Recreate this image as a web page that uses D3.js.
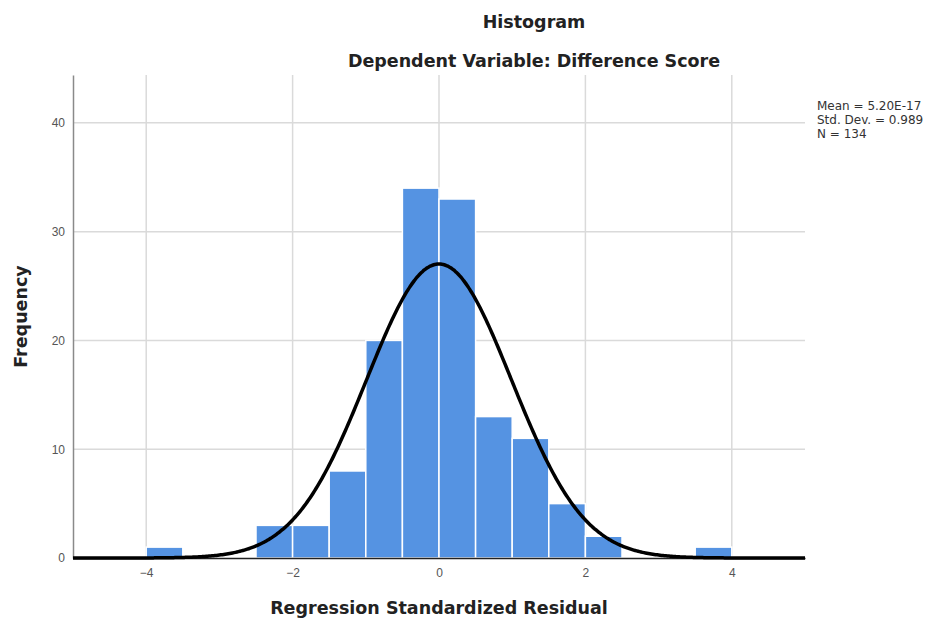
<!DOCTYPE html>
<html>
<head>
<meta charset="utf-8">
<script src="https://cdn.jsdelivr.net/npm/d3@7"></script>
<style>
  body { margin: 0; background: #fff; }
  svg { font-family: "DejaVu Sans", "Open Sans", sans-serif; }
</style>
</head>
<body>
<div id="chart"></div>
<script>
// bins of the regression standardized residual (width 0.5)
const binStart = [-4, -2.5, -2, -1.5, -1, -0.5, 0, 0.5, 1, 1.5, 2, 3.5];
const binCount = [1, 3, 3, 8, 20, 34, 33, 13, 11, 5, 2, 1];
const binWidth = 0.5;

const xTicks = [-4, -2, 0, 2, 4];
const yTicks = [0, 10, 20, 30, 40];

const statMean = 5.20e-17;
const statSd = 0.989;
const statN = 134;
const statLabels = ['Mean = 5.20E-17', 'Std. Dev. = 0.989', 'N = 134'];

const width = 937, height = 619;
const margin = {top: 75, left: 73, bottom: 61, right: 132};

const svg = d3.select('#chart').append('svg')
  .attr('width', width).attr('height', height);

const x = d3.scaleLinear().domain([-5, 5]).range([margin.left, width - margin.right]);
const y = d3.scaleLinear().domain([0, 44.4]).range([height - margin.bottom, margin.top]);

// grid
const grid = svg.append('g');
grid.selectAll('line.h').data(yTicks.filter(d => d > 0)).enter().append('line')
  .attr('x1', x(-5)).attr('x2', x(5))
  .attr('y1', d => y(d)).attr('y2', d => y(d))
  .attr('stroke', '#dadada').attr('stroke-width', 1.5);
grid.selectAll('line.v').data(xTicks).enter().append('line')
  .attr('x1', d => x(d)).attr('x2', d => x(d))
  .attr('y1', y(44.4)).attr('y2', y(0))
  .attr('stroke', '#dadada').attr('stroke-width', 1.5);

// bars
svg.append('g').selectAll('rect').data(binStart).enter().append('rect')
  .attr('x', d => x(d))
  .attr('width', x(binWidth) - x(0))
  .attr('y', (d, i) => y(binCount[i]))
  .attr('height', (d, i) => y(0) - y(binCount[i]))
  .attr('fill', '#5593e2')
  .attr('stroke', '#ffffff')
  .attr('stroke-width', 1.5);

// axes
const yAxis = svg.append('g').attr('transform', 'translate(' + margin.left + ',0)')
  .call(d3.axisLeft(y).tickValues(yTicks).tickSize(0).tickPadding(8));
yAxis.select('.domain').attr('stroke', '#8a8a8a').attr('stroke-width', 1.5);
yAxis.selectAll('text').attr('font-size', 12).attr('fill', '#555');

const xAxis = svg.append('g').attr('transform', 'translate(0,' + y(0) + ')')
  .call(d3.axisBottom(x).tickValues(xTicks).tickSize(0).tickPadding(10)
    .tickFormat(d => d < 0 ? '\u2212' + Math.abs(d) : d));
xAxis.select('.domain').attr('stroke', '#222').attr('stroke-width', 1.5);
xAxis.selectAll('text').attr('font-size', 12).attr('fill', '#555');

// fitted normal curve
const scale = statN * binWidth / (statSd * Math.sqrt(2 * Math.PI));
const curvePts = d3.range(-5, 5.001, 0.02).map(v => [v, scale * Math.exp(-0.5 * Math.pow((v - statMean) / statSd, 2))]);
svg.append('path').datum(curvePts)
  .attr('d', d3.line().x(d => x(d[0])).y(d => y(d[1])).curve(d3.curveBasis))
  .attr('fill', 'none').attr('stroke', '#000').attr('stroke-width', 3.5);

// titles
svg.append('text').attr('x', 534).attr('y', 28).attr('text-anchor', 'middle')
  .attr('font-size', 17.5).attr('font-weight', 'bold').attr('fill', '#222').text('Histogram');
svg.append('text').attr('x', 534).attr('y', 67).attr('text-anchor', 'middle')
  .attr('font-size', 17.5).attr('font-weight', 'bold').attr('fill', '#222').text('Dependent Variable: Difference Score');
svg.append('text').attr('x', (x(-5) + x(5)) / 2).attr('y', 614).attr('text-anchor', 'middle')
  .attr('font-size', 17.5).attr('font-weight', 'bold').attr('fill', '#222').text('Regression Standardized Residual');
svg.append('text').attr('transform', 'translate(27,' + ((y(0) + y(44.4)) / 2) + ') rotate(-90)')
  .attr('text-anchor', 'middle')
  .attr('font-size', 17.5).attr('font-weight', 'bold').attr('fill', '#222').text('Frequency');

// stats box
svg.append('g').selectAll('text').data(statLabels).enter().append('text')
  .attr('x', 817).attr('y', (d, i) => 110 + i * 14)
  .attr('font-size', 12).attr('fill', '#333').text(d => d);
</script>
</body>
</html>
